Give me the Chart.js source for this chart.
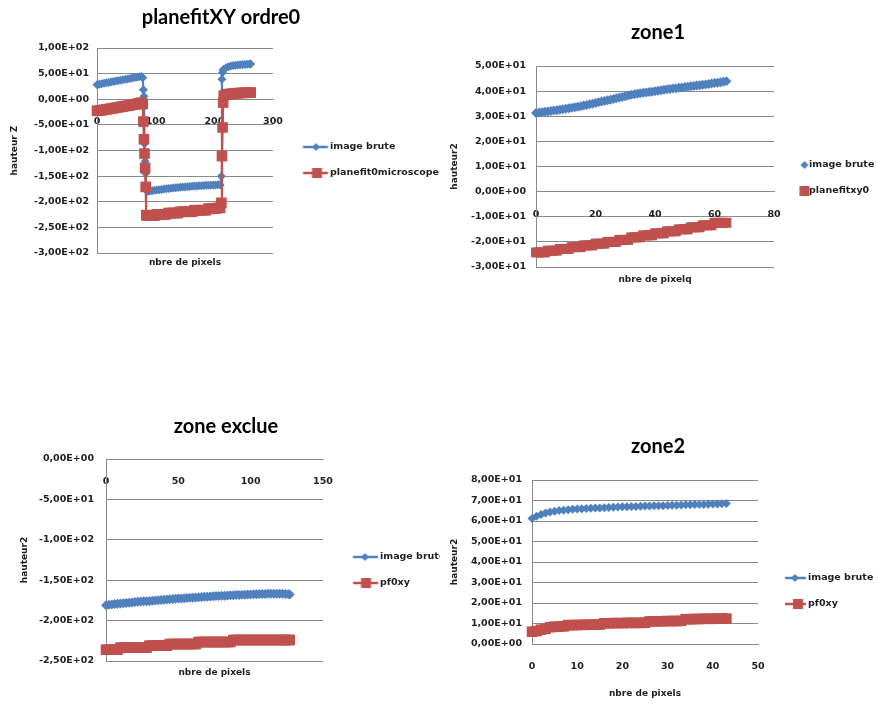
<!DOCTYPE html>
<html lang="fr">
<head>
<meta charset="utf-8">
<title>planefitXY ordre0</title>
<script src="https://cdn.jsdelivr.net/npm/chart.js@4.4.1/dist/chart.umd.min.js"></script>
<style>
    html, body { margin: 0; background: #fff; }
    #page { position: relative; width: 878px; height: 706px; overflow: hidden; }
    #page canvas { position: absolute; display: block; }
    .clip { position: absolute; overflow: hidden; }
</style>
</head>
<body>
<div id="page">
    <canvas id="chart-full"></canvas>
    <canvas id="chart-zone1"></canvas>
    <div class="clip" style="left:0;top:400px;width:440px;height:300px"><canvas id="chart-excl"></canvas></div>
    <canvas id="chart-zone2"></canvas>
</div>
<script>
// planefitXY ordre0 : profil complet
const fullNames = ['image brute', 'planefit0microscope']
const fullX = [0, 4, 8, 12, 16, 20, 24, 28, 32, 36, 40, 44, 48, 52, 56, 60, 64, 68, 72, 76,
    78, 79, 80, 81, 82, 83, 84,
    86, 90, 94, 98, 102, 106, 110, 114, 118, 122, 126, 130, 134, 138, 142, 146, 150, 154, 158, 162,
    166, 170, 174, 178, 182, 186, 190, 194, 198, 202, 206, 210,
    212, 213, 214, 215,
    216, 220, 224, 228, 232, 236, 240, 244, 248, 252, 256, 260, 262]
const fullBrute = [28.5, 29.4, 30.3, 31.2, 32.0, 32.9, 33.8, 34.6, 35.5, 36.3, 37.2, 38.0, 38.9, 39.7, 40.6, 41.4, 42.3, 43.1, 43.9, 44.6,
    42.0, 18.5, 6.0, -87, -121, -145, -176,
    -180.0, -179.2, -178.5, -177.8, -177.1, -176.5, -175.9, -175.3, -174.7, -174.2, -173.7, -173.2, -172.7, -172.2, -171.8, -171.4,
    -171.0, -170.6, -170.2, -169.8, -169.5, -169.2, -168.9, -168.6, -168.3, -168.0, -167.8, -167.6, -167.4, -167.2, -167.0, -167.2,
    -150, 39, 52, 57,
    58.5, 61.5, 63.5, 64.8, 65.7, 66.3, 66.8, 67.2, 67.6, 68.0, 68.3, 68.7, 69.0]
const fullFit = [-22.5, -22.0, -21.5, -20.5, -19.8, -19.0, -18.2, -17.5, -16.6, -15.8, -15.0, -14.2, -13.4, -12.6, -11.8, -11.0, -10.0, -9.0, -7.8, -6.5,
    -9.5, -43.5, -78, -106, -134, -171, -226,
    -227, -227, -227, -227, -224.5, -224.5, -224.5, -224.5, -224.5, -222, -222, -222, -222, -222, -219.5, -219.5,
    -219.5, -219.5, -219.5, -219.5, -216.5, -216.5, -216.5, -216.5, -216.5, -216.5, -213.5, -213.5, -213.5, -213.5, -212, -212,
    -202, -111, -55, -6.5,
    7.0, 9.0, 10.0, 10.5, 11.0, 11.5, 12.0, 12.0, 12.5, 12.5, 13.0, 13.0, 13.0]
const fullXTicks = [0, 100, 200, 300]
const fullYTicks = [-300, -250, -200, -150, -100, -50, 0, 50, 100]

// zone1
const zone1Names = ['image brute', 'planefitxy0']
const zone1X = [0, 1, 2, 3, 4, 5, 6, 7, 8, 9, 10, 11, 12, 13, 14, 15, 16, 17, 18, 19, 20, 21, 22, 23, 24, 25, 26, 27, 28, 29, 30, 31,
    32, 33, 34, 35, 36, 37, 38, 39, 40, 41, 42, 43, 44, 45, 46, 47, 48, 49, 50, 51, 52, 53, 54, 55, 56, 57, 58, 59, 60, 61, 62, 63, 64]
const zone1Brute = [31.3, 31.5, 31.6, 31.8, 31.9, 32.1, 32.3, 32.4, 32.6, 32.8, 33.0, 33.2, 33.4, 33.6, 33.8, 34.0,
    34.3, 34.5, 34.8, 35.0, 35.3, 35.6, 35.9, 36.1, 36.4, 36.6, 36.9, 37.2, 37.5, 37.7, 38.0, 38.3,
    38.6, 38.8, 39.0, 39.2, 39.4, 39.5, 39.7, 39.8, 40.0, 40.1, 40.3, 40.5, 40.7, 40.8, 41.0, 41.1,
    41.3, 41.4, 41.6, 41.7, 41.9, 42.0, 42.2, 42.3, 42.5, 42.6, 42.8, 43.0, 43.2, 43.3, 43.5, 43.7, 43.9]
const zone1Fit = [-24.2, -24.2, -24.2, -24.2, -23.5, -23.5, -23.5, -23.5, -22.8, -22.8, -22.8, -22.8, -22.1, -22.1, -22.1, -22.1,
    -21.4, -21.4, -21.4, -21.4, -20.7, -20.7, -20.7, -20.7, -20.0, -20.0, -20.0, -20.0, -19.2, -19.2, -19.2, -19.2,
    -18.2, -18.2, -18.2, -18.2, -17.4, -17.4, -17.4, -17.4, -16.6, -16.6, -16.6, -16.6, -15.8, -15.8, -15.8, -15.8,
    -15.0, -15.0, -15.0, -15.0, -14.2, -14.2, -14.2, -14.2, -13.4, -13.4, -13.4, -13.4, -12.4, -12.4, -12.4, -12.4, -12.4]
const zone1XTicks = [0, 20, 40, 60, 80]
const zone1YTicks = [-30, -20, -10, 0, 10, 20, 30, 40, 50]

// zone exclue
const exclNames = ['image brute', 'pf0xy']
const exclX = [0, 2, 4, 6, 8, 10, 12, 14, 16, 18, 20, 22, 24, 26, 28, 30, 32, 34, 36, 38, 40, 42, 44, 46, 48, 50, 52, 54, 56, 58, 60, 62,
    64, 66, 68, 70, 72, 74, 76, 78, 80, 82, 84, 86, 88, 90, 92, 94, 96, 98, 100, 102, 104, 106, 108, 110, 112, 114, 116, 118, 120, 122,
    124, 126, 127]
const exclBrute = [-181.0, -180.5, -180.0, -179.6, -179.2, -178.8, -178.5, -178.1, -177.8, -177.5, -177.1, -176.8, -176.5, -176.2, -175.9, -175.6,
    -175.3, -175.0, -174.7, -174.4, -174.1, -173.8, -173.5, -173.3, -173.0, -172.8, -172.5, -172.3, -172.0, -171.8, -171.6, -171.3,
    -171.1, -170.9, -170.6, -170.4, -170.2, -170.0, -169.7, -169.5, -169.3, -169.1, -168.9, -168.7, -168.5, -168.4, -168.2, -168.0,
    -167.9, -167.7, -167.6, -167.4, -167.3, -167.2, -167.1, -167.0, -166.9, -166.8, -166.8, -166.7, -166.7, -166.8, -167.0, -167.4, -167.8]
const exclFit = [-236, -236, -236, -236, -236,
    -233.5, -233.5, -233.5, -233.5, -233.5, -233.5, -233.5, -233.5, -233.5, -233.5,
    -231, -231, -231, -231, -231, -231, -231,
    -229, -229, -229, -229, -229, -229, -229, -229, -229, -229,
    -226.5, -226.5, -226.5, -226.5, -226.5, -226.5, -226.5, -226.5, -226.5, -226.5, -226.5, -226.5,
    -224, -224, -224, -224, -224, -224, -224, -224, -224, -224, -224, -224, -224, -224, -224, -224, -224, -224, -224, -224, -224]
const exclXTicks = [0, 50, 100, 150]
const exclYTicks = [-250, -200, -150, -100, -50, 0]

// zone2
const zone2Names = ['image brute', 'pf0xy']
const zone2X = [0, 1, 2, 3, 4, 5, 6, 7, 8, 9, 10, 11, 12, 13, 14, 15, 16, 17, 18, 19, 20, 21, 22, 23, 24, 25, 26, 27, 28, 29, 30, 31,
    32, 33, 34, 35, 36, 37, 38, 39, 40, 41, 42, 43]
const zone2Brute = [61.2, 62.3, 63.2, 63.9, 64.4, 64.8, 65.1, 65.3, 65.5, 65.7, 65.9, 66.0, 66.1, 66.2, 66.3, 66.4,
    66.5, 66.6, 66.7, 66.8, 66.9, 67.0, 67.1, 67.1, 67.2, 67.3, 67.3, 67.4, 67.5, 67.5, 67.6, 67.7,
    67.7, 67.8, 67.9, 67.9, 68.0, 68.1, 68.1, 68.2, 68.3, 68.3, 68.4, 68.5]
const zone2Fit = [6.0, 6.3, 7.0, 7.4, 8.2, 8.4, 8.5, 8.6, 9.2, 9.2, 9.3, 9.3, 9.4, 9.4, 9.5, 9.5,
    10.1, 10.1, 10.2, 10.2, 10.2, 10.3, 10.3, 10.3, 10.3, 10.4, 11.0, 11.0, 11.1, 11.1, 11.2, 11.2,
    11.2, 11.3, 12.1, 12.1, 12.2, 12.2, 12.3, 12.3, 12.3, 12.4, 12.4, 12.4]
const zone2XTicks = [0, 10, 20, 30, 40, 50]
const zone2YTicks = [0, 10, 20, 30, 40, 50, 60, 70, 80]

const INK = '#1f1f1f'
const GRID = '#8a8a8a'
const BLUE = '#4f81bd'
const RED = '#c0504d'
const SMALL = { family: 'DejaVu Sans', size: 9.5, weight: 'bold', lineHeight: 1.2 }
const AXIS = { family: 'DejaVu Sans', size: 9, weight: 'bold', lineHeight: 1.2 }
const BIG = { family: 'Lato', size: 20, weight: 'bold', lineHeight: 1.2 }
const EXTRA = 24          // marge ajoutée de chaque côté du canvas (le titre reste centré)
const LEG_PAD = 16.5

// format Excel 0,00E+00
function sci(v) {
    const [m, e] = Number(v).toExponential(2).split('e')
    const n = Number(e)
    return m.replace('.', ',') + 'E' + (n < 0 ? '-' : '+') + String(Math.abs(n)).padStart(2, '0')
}

const pairs = (xs, ys) => xs.map((x, i) => ({ x, y: ys[i] }))

function textWidth(names) {
    const ctx = document.createElement('canvas').getContext('2d')
    ctx.font = `bold ${SMALL.size}px ${SMALL.family}`
    return Math.max(...names.map(n => ctx.measureText(n).width))
}

// petit dessin de légende : trait + marqueur, centré sur la case
function legendIcon(color, shape, line, mx) {
    const c = document.createElement('canvas')
    c.width = 80
    c.height = 16
    const g = c.getContext('2d')
    g.fillStyle = color
    g.strokeStyle = color
    if (line) {
        g.lineWidth = 2.5
        g.beginPath()
        g.moveTo(40 + line[0], 8)
        g.lineTo(40 + line[1], 8)
        g.stroke()
    }
    if (shape === 'diamond') {
        g.beginPath()
        g.moveTo(40 + mx, 4)
        g.lineTo(40 + mx + 4, 8)
        g.lineTo(40 + mx, 12)
        g.lineTo(40 + mx - 4, 8)
        g.closePath()
        g.fill()
    } else {
        g.fillRect(40 + mx - 5, 3, 10, 10)
    }
    return c
}

function drawPanel(canvas, p) {
    const W = p.W0 + 2 * EXTRA
    canvas.width = W
    canvas.height = p.H
    canvas.style.left = (p.left - EXTRA) + 'px'
    canvas.style.top = p.top + 'px'

    const plotL = p.plotL + EXTRA
    const plotR = p.plotR + EXTRA
    const boxW = p.textX - p.plotR - LEG_PAD - SMALL.size / 2
    const boxCenter = p.plotR + LEG_PAD + boxW / 2
    const legW = LEG_PAD + boxW + SMALL.size / 2 + textWidth(p.names) + 10
    const gap = Math.max(0, W - plotR - legW)
    const line = p.iconLine && p.iconLine.map(v => v - boxCenter)
    const icons = [
        legendIcon(BLUE, 'diamond', line, p.iconMarks[0] - boxCenter),
        legendIcon(RED, 'square', line, p.iconMarks[1] - boxCenter)
    ]

    const scales = {
        x: {
            type: 'linear',
            position: p.xAtZero ? { y: 0 } : 'bottom',
            min: p.xTicks[0],
            max: p.xTicks[p.xTicks.length - 1],
            afterBuildTicks: s => { s.ticks = p.xTicks.map(value => ({ value })) },
            ticks: { color: INK, font: SMALL, padding: p.xTickPad, maxRotation: 0, autoSkip: false },
            grid: { display: false },
            border: { color: GRID, width: 1 },
            title: p.xAtZero ? { display: false } : {
                display: true, text: p.xTitle, color: INK, font: AXIS,
                padding: { top: 0, bottom: p.xTitlePad }
            },
            afterFit: p.xAtZero ? undefined : s => { s.height = p.H - p.plotB }
        },
        y: {
            type: 'linear',
            position: 'left',
            min: p.yTicks[0],
            max: p.yTicks[p.yTicks.length - 1],
            afterBuildTicks: s => { s.ticks = p.yTicks.map(value => ({ value })) },
            ticks: { color: INK, font: SMALL, padding: p.yTickPad, callback: sci },
            grid: { color: GRID, lineWidth: 1, drawTicks: false },
            border: { color: GRID, width: 1 },
            title: {
                display: true, text: p.yTitle, color: INK, font: AXIS,
                padding: { top: p.yTitleX + EXTRA - AXIS.size * 0.6, bottom: 0 }
            },
            afterFit: s => { s.width = plotL }
        },
        gap: {
            type: 'linear',
            axis: 'y',
            position: 'right',
            weight: 2000,
            ticks: { display: false },
            grid: { display: false },
            border: { display: false },
            afterFit: s => { s.width = gap }
        }
    }
    if (p.xAtZero) {
        // axe factice en bas, seulement pour le titre "nbre de pixels"
        scales.xt = {
            type: 'linear',
            axis: 'x',
            position: 'bottom',
            ticks: { display: false },
            grid: { display: false },
            border: { display: false },
            title: { display: true, text: p.xTitle, color: INK, font: AXIS, padding: { top: 0, bottom: p.xTitlePad } },
            afterFit: s => { s.height = p.H - p.plotB }
        }
    }

    new Chart(canvas, {
        type: 'scatter',
        data: {
            datasets: [
                {
                    label: p.names[0],
                    data: pairs(p.x, p.brute),
                    showLine: p.lines,
                    borderColor: BLUE,
                    backgroundColor: BLUE,
                    borderWidth: 2.25,
                    pointStyle: 'rectRot',
                    pointRadius: p.blueR,
                    pointBorderWidth: 0,
                    clip: false,
                    order: 1,
                    xAxisID: 'x',
                    yAxisID: 'y'
                },
                {
                    label: p.names[1],
                    data: pairs(p.x, p.fit),
                    showLine: p.lines,
                    borderColor: RED,
                    backgroundColor: RED,
                    borderWidth: 2.25,
                    pointStyle: 'rect',
                    pointRadius: p.redR,
                    pointBorderWidth: 0,
                    clip: false,
                    order: 0,
                    xAxisID: 'x',
                    yAxisID: 'y'
                }
            ]
        },
        options: {
            responsive: false,
            animation: false,
            events: [],
            layout: { padding: 0 },
            plugins: {
                title: {
                    display: true,
                    text: p.title,
                    color: '#000',
                    font: BIG,
                    padding: { top: p.titleTop, bottom: p.titleBottom }
                },
                legend: {
                    position: 'right',
                    maxWidth: legW,
                    title: { display: true, text: ' ', font: { size: 1, lineHeight: 1 }, padding: { top: 0, bottom: p.legendShift - 1 } },
                    labels: {
                        usePointStyle: true,
                        pointStyleWidth: boxW,
                        padding: LEG_PAD,
                        color: INK,
                        font: SMALL,
                        generateLabels: chart => chart.data.datasets.map((ds, i) => ({
                            text: ds.label,
                            pointStyle: icons[i],
                            fillStyle: 'transparent',
                            strokeStyle: 'transparent',
                            lineWidth: 0,
                            hidden: false,
                            datasetIndex: i,
                            fontColor: INK
                        }))
                    }
                },
                tooltip: { enabled: false }
            },
            scales
        }
    })
}

drawPanel(document.querySelector('#chart-full'), {
    title: 'planefitXY ordre0', names: fullNames, x: fullX, brute: fullBrute, fit: fullFit,
    xTicks: fullXTicks, yTicks: fullYTicks, xTitle: 'nbre de pixels', yTitle: 'hauteur Z',
    left: 0, top: 0, W0: 442, H: 290, plotL: 97, plotR: 273, plotB: 253, titleTop: 6, titleBottom: 18,
    xAtZero: true, xTickPad: 8.6, yTickPad: 8, xTitlePad: 21.6, yTitleX: 15,
    legendShift: 30, textX: 330, iconLine: [303, 328], iconMarks: [316, 317],
    lines: true, blueR: 4.5, redR: 7.5
})

drawPanel(document.querySelector('#chart-zone1'), {
    title: 'zone1', names: zone1Names, x: zone1X, brute: zone1Brute, fit: zone1Fit,
    xTicks: zone1XTicks, yTicks: zone1YTicks, xTitle: 'nbre de pixelq', yTitle: 'hauteur2',
    left: 440, top: 0, W0: 436, H: 300, plotL: 96, plotR: 334, plotB: 267, titleTop: 21, titleBottom: 21,
    xAtZero: true, xTickPad: 9.3, yTickPad: 10, xTitlePad: 14.6, yTitleX: 15,
    legendShift: 56, textX: 369, iconLine: null, iconMarks: [364.5, 364.5],
    lines: false, blueR: 5, redR: 7
})

drawPanel(document.querySelector('#chart-excl'), {
    title: 'zone exclue', names: exclNames, x: exclX, brute: exclBrute, fit: exclFit,
    xTicks: exclXTicks, yTicks: exclYTicks, xTitle: 'nbre de pixels', yTitle: 'hauteur2',
    left: 0, top: 0, W0: 452, H: 300, plotL: 106, plotR: 323, plotB: 261, titleTop: 15, titleBottom: 20,
    xAtZero: true, xTickPad: 9.3, yTickPad: 12, xTitlePad: 21.6, yTitleX: 25,
    legendShift: 40, textX: 380, iconLine: [353, 378], iconMarks: [365, 366],
    lines: true, blueR: 5, redR: 7.5
})

drawPanel(document.querySelector('#chart-zone2'), {
    title: 'zone2', names: zone2Names, x: zone2X, brute: zone2Brute, fit: zone2Fit,
    xTicks: zone2XTicks, yTicks: zone2YTicks, xTitle: 'nbre de pixels', yTitle: 'hauteur2',
    left: 440, top: 420, W0: 436, H: 286, plotL: 92, plotR: 318, plotB: 224, titleTop: 15, titleBottom: 21,
    xAtZero: false, xTickPad: 9.3, yTickPad: 10, xTitlePad: 6.6, yTitleX: 15,
    legendShift: 56, textX: 368, iconLine: [345, 366], iconMarks: [355, 358],
    lines: true, blueR: 4.5, redR: 7.5
})
</script>
</body>
</html>
